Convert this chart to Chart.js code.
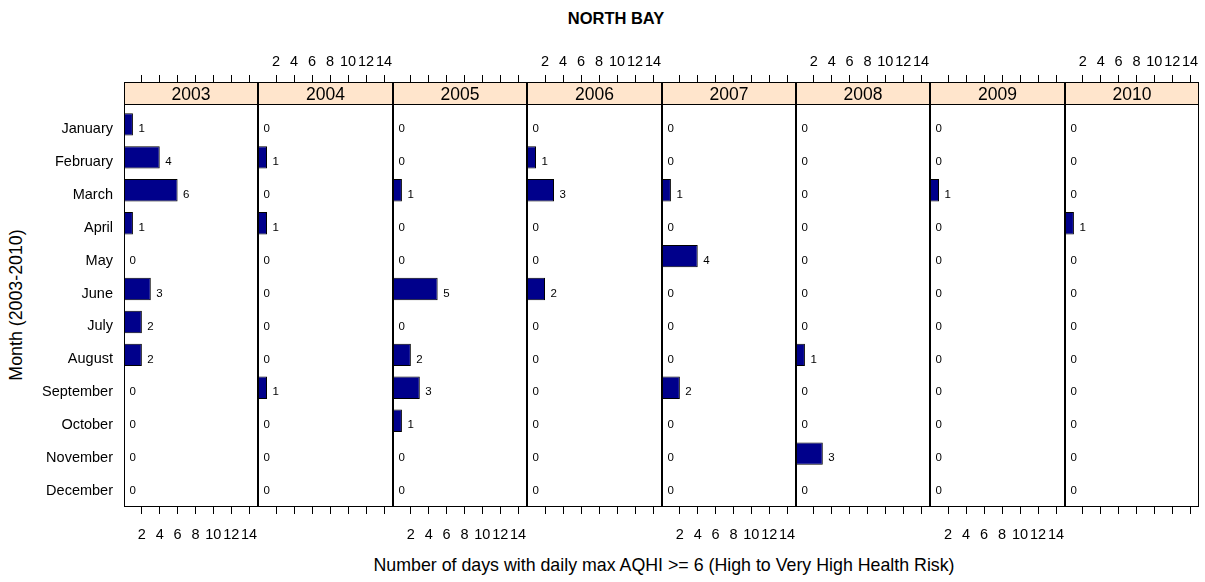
<!DOCTYPE html>
<html><head><meta charset="utf-8">
<script src="https://cdn.jsdelivr.net/npm/chart.js@4.4.1/dist/chart.umd.min.js"></script>
<style>
html,body{margin:0;padding:0;background:#fff;width:1205px;height:582px;overflow:hidden;position:relative;font-family:"Liberation Sans",Arial,sans-serif;}
canvas{position:absolute;}
.t{position:absolute;color:#000;white-space:nowrap;line-height:1;}
#mainTitle{left:616px;top:18px;transform:translate(-50%,-50%);font-size:16.5px;font-weight:bold;}
#ytitle{left:17px;top:305px;transform:translate(-50%,-50%) rotate(-90deg);font-size:17.8px;}
#xtitle{left:664px;top:566px;transform:translate(-50%,-50%);font-size:17.8px;}
</style></head><body>
<div class="t" id="mainTitle">NORTH BAY</div>
<div class="t" id="ytitle">Month (2003-2010)</div>
<div class="t" id="xtitle">Number of days with daily max AQHI &gt;= 6 (High to Very High Health Risk)</div>
<script>
// ---- data ----
const months = ['January','February','March','April','May','June','July','August','September','October','November','December'];
const years = ['2003','2004','2005','2006','2007','2008','2009','2010'];
const days2003 = [1,4,6,1,0,3,2,2,0,0,0,0];
const days2004 = [0,1,0,1,0,0,0,0,1,0,0,0];
const days2005 = [0,0,1,0,0,5,0,2,3,1,0,0];
const days2006 = [0,1,3,0,0,2,0,0,0,0,0,0];
const days2007 = [0,0,1,0,4,0,0,0,2,0,0,0];
const days2008 = [0,0,0,0,0,0,0,1,0,0,3,0];
const days2009 = [0,0,1,0,0,0,0,0,0,0,0,0];
const days2010 = [0,0,0,1,0,0,0,0,0,0,0,0];
const xTickValues = [2,4,6,8,10,12,14];

const seriesByYear = [days2003,days2004,days2005,days2006,days2007,days2008,days2009,days2010];

const FONT = '"Liberation Sans", Arial, sans-serif';
const TOP = 40, H = 540;
const edges = [];
for (let i = 0; i <= 8; i++) edges.push(Math.round(124 + i * 134.375));

const panelPlugin = {
  id: 'panelFrame',
  beforeDraw(chart) {
    const ctx = chart.ctx, ca = chart.chartArea, tb = chart.titleBlock;
    ctx.save();
    ctx.fillStyle = '#ffe5cc';
    ctx.fillRect(ca.left, tb.top, ca.right - ca.left, tb.bottom - tb.top);
    ctx.restore();
  },
  afterDraw(chart) {
    const ctx = chart.ctx, ca = chart.chartArea, tb = chart.titleBlock;
    ctx.save();
    ctx.strokeStyle = '#000';
    ctx.lineWidth = 1;
    ctx.beginPath();
    const l = ca.left + 0.5, r = ca.right - 0.5;
    const t = tb.top + 0.5, m = ca.top + 0.5, b = ca.bottom - 0.5;
    ctx.moveTo(ca.left, t); ctx.lineTo(ca.right, t);
    ctx.moveTo(ca.left, m); ctx.lineTo(ca.right, m);
    ctx.moveTo(ca.left, b); ctx.lineTo(ca.right, b);
    ctx.moveTo(l, tb.top); ctx.lineTo(l, ca.bottom);
    ctx.moveTo(r, tb.top); ctx.lineTo(r, ca.bottom);
    ctx.stroke();
    ctx.restore();
  }
};

const valuePlugin = {
  id: 'valueLabels',
  afterDatasetsDraw(chart) {
    const ctx = chart.ctx;
    const meta = chart.getDatasetMeta(0);
    const data = chart.data.datasets[0].data;
    ctx.save();
    ctx.font = '11.5px ' + FONT;
    ctx.fillStyle = '#000';
    ctx.textBaseline = 'middle';
    ctx.textAlign = 'left';
    meta.data.forEach((bar, k) => {
      ctx.fillText(String(data[k].x), bar.x + 5.5, bar.y + 4.5);
    });
    ctx.restore();
  }
};

function setTicks(scale) {
  scale.ticks = xTickValues.map(v => ({value: v}));
}

function makePanel(i) {
  const L = edges[i], R = edges[i + 1];
  const padL = i === 0 ? 0 : 12, padR = 12;
  const canvasLeft = i === 0 ? 0 : L - padL;
  const w = R + padR - canvasLeft;
  const cv = document.createElement('canvas');
  cv.width = w; cv.height = H;
  cv.style.left = canvasLeft + 'px'; cv.style.top = TOP + 'px';
  cv.style.width = w + 'px'; cv.style.height = H + 'px';
  document.body.appendChild(cv);

  const vals = seriesByYear[i];
  const data = vals.map((v, k) => ({x: v, y: k + 1}));
  const tickGrid = {display: true, drawOnChartArea: false, drawTicks: true, tickLength: 7, color: '#000', lineWidth: 1};

  new Chart(cv, {
    type: 'bar',
    data: {
      datasets: [{
        data: data,
        backgroundColor: '#00008B',
        borderColor: '#000000',
        borderWidth: 1,
        barPercentage: 0.68,
        categoryPercentage: 1
      }]
    },
    options: {
      indexAxis: 'y',
      responsive: false,
      animation: false,
      devicePixelRatio: 1,
      events: [],
      layout: {padding: {left: padL, right: padR, top: 0, bottom: 0}},
      plugins: {
        legend: {display: false},
        tooltip: {enabled: false},
        title: {
          display: true, text: years[i], fullSize: false, position: 'top',
          color: '#000', padding: {top: 4, bottom: 0},
          font: {family: FONT, size: 17.5, weight: 'normal', lineHeight: '18px'}
        }
      },
      scales: {
        y: {
          type: 'linear', reverse: true, min: 0.38, max: 12.62, offset: false,
          display: i === 0,
          afterFit: s => { s.width = (i === 0) ? 124 : 0; },
          afterBuildTicks: s => { s.ticks = months.map((m, k) => ({value: k + 1})); },
          grid: {display: false, drawTicks: false, offset: false},
          border: {display: false},
          ticks: {
            padding: 11, color: '#000', autoSkip: false, labelOffset: 4.5,
            font: {family: FONT, size: 14.5},
            callback: v => months[Math.round(v) - 1]
          }
        },
        x: {
          type: 'linear', position: 'bottom', min: 0, max: 15,
          afterFit: s => { s.height = 73; },
          afterBuildTicks: setTicks,
          grid: tickGrid,
          border: {display: false},
          ticks: {display: i % 2 === 0, padding: 12, color: '#000', maxRotation: 0, autoSkip: false, font: {family: FONT, size: 14.5}}
        },
        xt: {
          type: 'linear', position: 'top', min: 0, max: 15, weight: 5000,
          afterFit: s => { s.height = 42; },
          afterBuildTicks: setTicks,
          grid: tickGrid,
          border: {display: false},
          ticks: {display: i % 2 === 1, padding: 4, color: '#000', maxRotation: 0, autoSkip: false, font: {family: FONT, size: 14.5}}
        }
      }
    },
    plugins: [panelPlugin, valuePlugin]
  });
}

for (let i = 0; i < 8; i++) makePanel(i);
</script>
</body></html>
